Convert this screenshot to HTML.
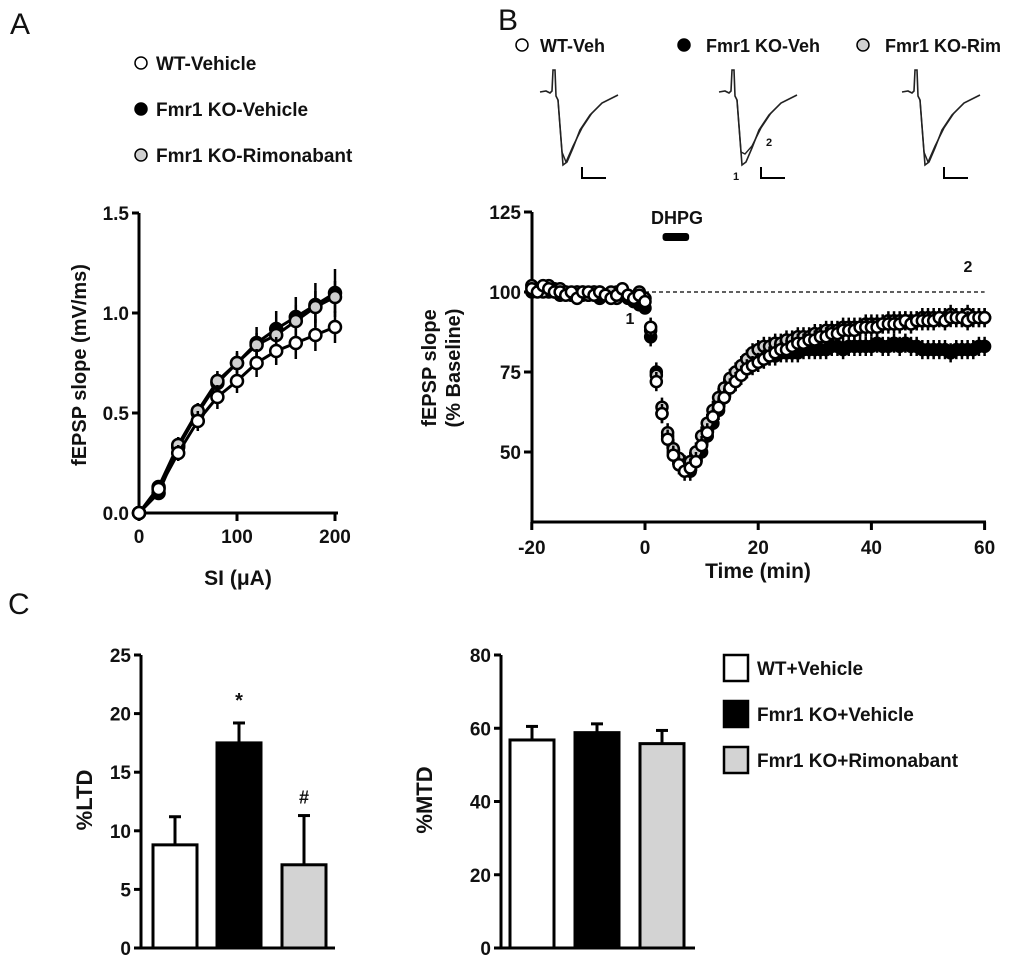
<!DOCTYPE html>
<html><head><meta charset="utf-8">
<style>
html,body{margin:0;padding:0;background:#fff;}
svg{display:block;font-family:"Liberation Sans",Arial,sans-serif;}
text{font-weight:bold;fill:#111;}
</style></head>
<body>
<svg id="fig" width="1024" height="961" viewBox="0 0 1024 961" xmlns="http://www.w3.org/2000/svg">
<text x="10" y="34" font-size="30" font-weight="normal" style="font-weight:normal">A</text>
<text x="498" y="30" font-size="30" style="font-weight:normal">B</text>
<text x="8" y="614" font-size="30" style="font-weight:normal">C</text>
</svg>
<script>
// ---------- Panel A data ----------
const aStim = [0,20,40,60,80,100,120,140,160,180,200];
const aWT   = [0,0.12,0.30,0.46,0.58,0.66,0.75,0.81,0.85,0.89,0.93];
const aWTe  = [0,0.03,0.04,0.05,0.06,0.06,0.07,0.07,0.08,0.08,0.08];
const aKO   = [0,0.10,0.33,0.50,0.65,0.75,0.85,0.92,0.98,1.04,1.10];
const aKOe  = [0,0.03,0.04,0.05,0.05,0.06,0.08,0.09,0.10,0.11,0.12];
const aRim  = [0,0.13,0.34,0.51,0.66,0.75,0.84,0.89,0.96,1.03,1.08];
const aRime = [0,0.03,0.04,0.04,0.05,0.05,0.06,0.07,0.08,0.08,0.08];
const aYTicks = [0.0,0.5,1.0,1.5];
const aYLabels = ["0.0","0.5","1.0","1.5"];
const aXTicks = [0,100,200];

// ---------- Panel B data ----------
const bTime = [-20,-19,-18,-17,-16,-15,-14,-13,-12,-11,-10,-9,-8,-7,-6,-5,-4,-3,-2,-1,0,1,2,3,4,5,6,7,8,9,10,11,12,13,14,15,16,17,18,19,20,21,22,23,24,25,26,27,28,29,30,31,32,33,34,35,36,37,38,39,40,41,42,43,44,45,46,47,48,49,50,51,52,53,54,55,56,57,58,59,60];
const bWT  = [101,100,102,101,100,100,99,100,98,100,100,99,100,99,98,99,101,99,98,99,97,89,72,62,54,49,46,44,45,47,52,56,61,64,67,70,72,74,76,77,78,79,80,81,82,82,83,84,84,85,85,86,86,87,87,88,88,88,89,89,89,89,90,90,90,90,91,90,91,91,91,91,92,91,92,92,92,91,92,92,92];
const bKO  = [100,101,101,100,101,99,100,99,100,99,99,100,98,99,99,100,99,98,97,96,95,86,75,62,55,50,47,45,44,47,50,55,59,63,67,70,72,74,76,78,79,80,80,80,81,81,81,81,82,82,82,82,82,83,83,82,83,83,83,83,83,84,83,83,84,83,84,83,83,82,82,82,82,82,81,82,82,82,82,83,83];
const bRim = [102,101,100,102,100,101,100,99,100,100,99,100,100,99,100,98,100,99,98,100,98,88,74,64,56,51,48,46,47,50,55,59,63,67,70,73,75,77,79,81,82,83,83,84,84,85,85,86,86,86,87,87,88,88,88,89,89,89,89,90,90,90,90,91,91,91,91,91,91,92,92,92,92,92,93,92,92,93,92,92,92];
const bErr = [2,2,2,2,2,2,2,2,2,2,2,2,2,2,2,2,2,2,2,2,2,3,3,3,3,3,3,3,3,3,3,3,3,3,3,3,3,3,3,3,3,3,3,3,3,3,3,3,3,3,3,3,3,3,3,3,3,3,3,3,3,3,3,3,3,3,3,3,3,3,3,3,3,3,3,3,3,3,3,3,3];
const bYTicks = [50,75,100,125];
const bXTicks = [-20,0,20,40,60];

// ---------- Panel C data ----------
const cGroups = ["WT+Vehicle","Fmr1 KO+Vehicle","Fmr1 KO+Rimonabant"];
const cLTD    = [8.8,17.5,7.1];
const cLTDerr = [2.4,1.7,4.2];
const cMTD    = [56.8,58.8,55.8];
const cMTDerr = [3.7,2.4,3.6];
const cLTDTicks = [0,5,10,15,20,25];
const cMTDTicks = [0,20,40,60,80];
const cFills = ["#ffffff","#000000","#d3d3d3"];

const NS="http://www.w3.org/2000/svg";
const svg=document.getElementById('fig');
function mk(tag,attrs,parent){const e=document.createElementNS(NS,tag);for(const k in attrs)e.setAttribute(k,attrs[k]);(parent||svg).appendChild(e);return e;}
function txt(x,y,s,size,anchor,parent){const t=mk('text',{x:x,y:y,'font-size':size,'text-anchor':anchor||'start'},parent);t.textContent=s;return t;}

// ===== Panel A =====
const gA=mk('g',{});


const ax=v=>139+v*0.98, ay=v=>513-v*200;
mk('line',{x1:139,y1:ay(1.5),x2:139,y2:513,stroke:'#000','stroke-width':3},gA);
mk('line',{x1:139,y1:513,x2:ax(200)+3,y2:513,stroke:'#000','stroke-width':3},gA);
aYTicks.forEach((v,i)=>{mk('line',{x1:132,y1:ay(v),x2:139,y2:ay(v),stroke:'#000','stroke-width':3},gA);
 const t=txt(129,ay(v)+7,aYLabels[i],19,'end',gA);
 
 });
aXTicks.forEach(v=>{mk('line',{x1:ax(v),y1:513,x2:ax(v),y2:521,stroke:'#000','stroke-width':3},gA);
 const t=txt(ax(v),543,String(v),19,'middle',gA);
 
 });
const aXT=txt(238,585,'SI (\u03bcA)',21,'middle',gA);


const aYT=txt(0,0,'fEPSP slope (mV/ms)',20,'middle',gA);
aYT.setAttribute('transform','translate(86,365) rotate(-90)');


function seriesA(vals,errs,fill,name){
 const g=mk('g',{},gA);
 
 
 mk('polyline',{points:aStim.map((x,i)=>ax(x)+','+ay(vals[i])).join(' '),fill:'none',stroke:'#000','stroke-width':3},g);
 aStim.forEach((x,i)=>{
  mk('line',{x1:ax(x),y1:ay(vals[i]+errs[i]),x2:ax(x),y2:ay(vals[i]-errs[i]),stroke:'#000','stroke-width':2.5},g);
 });
 aStim.forEach((x,i)=>{
  const c=mk('circle',{cx:ax(x),cy:ay(vals[i]),r:6,fill:fill,stroke:'#000','stroke-width':2.5},g);
  
  
 });
}
seriesA(aKO,aKOe,'#000','a-series-ko-vehicle');
seriesA(aRim,aRime,'#cfcfcf','a-series-ko-rimonabant');
seriesA(aWT,aWTe,'#fff','a-series-wt-vehicle');
// legend A
[['WT-Vehicle','#fff',63],['Fmr1 KO-Vehicle','#000',109],['Fmr1 KO-Rimonabant','#cfcfcf',155]].forEach(l=>{
 const g=mk('g',{});
 
 
 mk('circle',{cx:141,cy:l[2],r:6,fill:l[1],stroke:'#000','stroke-width':1.5},g);
 txt(156,l[2]+7,l[0],19,'start',g);
});

// ===== Panel B =====
const gB=mk('g',{});


const bx=v=>645+v*5.66, by=v=>292-(v-100)*3.2;
mk('line',{x1:532,y1:by(125),x2:532,y2:522,stroke:'#000','stroke-width':3},gB);
mk('line',{x1:532,y1:522,x2:986,y2:522,stroke:'#000','stroke-width':3},gB);
bYTicks.forEach(v=>{mk('line',{x1:524,y1:by(v),x2:532,y2:by(v),stroke:'#000','stroke-width':3},gB);
 const t=txt(521,by(v)+7,String(v),19,'end',gB);
 
 });
bXTicks.forEach(v=>{mk('line',{x1:bx(v),y1:522,x2:bx(v),y2:530,stroke:'#000','stroke-width':3},gB);
 const t=txt(bx(v),554,String(v),19,'middle',gB);
 
 });
const bXT=txt(758,578,'Time (min)',21,'middle',gB);


const bYT=mk('text',{'font-size':20,'text-anchor':'middle',transform:'translate(436,368) rotate(-90)'},gB);


const ts1=mk('tspan',{x:0,dy:0},bYT);ts1.textContent='fEPSP slope';
const ts2=mk('tspan',{x:0,dy:24},bYT);ts2.textContent='(% Baseline)';
mk('line',{x1:bx(0),y1:by(100),x2:bx(60),y2:by(100),stroke:'#000','stroke-width':1.3,'stroke-dasharray':'4,3'},gB);
const dh=mk('rect',{x:bx(3.1),y:233,width:bx(7.8)-bx(3.1),height:8,rx:3,fill:'#000'},gB);


const dt=txt(677,224,'DHPG',18,'middle',gB);


txt(630,324,'1',16,'middle',gB);
txt(968,272,'2',16,'middle',gB);
function seriesB(vals,fill,name){
 const g=mk('g',{},gB);
 
 
 bTime.forEach((t,i)=>{
  mk('line',{x1:bx(t),y1:by(vals[i]+bErr[i]),x2:bx(t),y2:by(vals[i]-bErr[i]),stroke:'#000','stroke-width':2.5},g);
 });
 bTime.forEach((t,i)=>{
  const c=mk('circle',{cx:bx(t),cy:by(vals[i]),r:5.5,fill:fill,stroke:'#000','stroke-width':2.5},g);
  
  
 });
}
seriesB(bKO,'#000','b-series-ko-veh');
seriesB(bRim,'#cfcfcf','b-series-ko-rim');
seriesB(bWT,'#fff','b-series-wt-veh');
// legend B
[['WT-Veh','#fff',522,540],['Fmr1 KO-Veh','#000',684,706],['Fmr1 KO-Rim','#cfcfcf',863,885]].forEach(l=>{
 const g=mk('g',{});
 
 
 mk('circle',{cx:l[2],cy:45,r:6,fill:l[1],stroke:'#000','stroke-width':1.5},g);
 txt(l[3],52,l[0],18,'start',g);
});
// example traces
function trace(ox,deep2,name){
 const g=mk('g',{});
 
 
 const p1=`M${ox},92 L${ox+6},91 L${ox+10},93 L${ox+12},91 L${ox+13},70 L${ox+15},70 L${ox+16},96 L${ox+18},100 L${ox+23},165 L${ox+27},162 L${ox+33},148 L${ox+40},130 L${ox+50},115 L${ox+62},103 L${ox+78},95`;
 mk('path',{d:p1,fill:'none',stroke:'#222','stroke-width':1.6},g);
 const p2=`M${ox+18},100 L${ox+22},152 L${ox+26},${deep2} L${ox+33},146 L${ox+42},128 L${ox+52},113`;
 mk('path',{d:p2,fill:'none',stroke:'#222','stroke-width':1.4},g);
 mk('path',{d:`M${ox+42},167 L${ox+42},178 L${ox+66},178`,fill:'none',stroke:'#000','stroke-width':2},g);
}
trace(540,162,'trace-wt-veh');
trace(719,154,'trace-ko-veh');
trace(902,162,'trace-ko-rim');
txt(736,180,'1',11,'middle');
txt(769,146,'2',11,'middle');

// ===== Panel C =====
function barChart(x0,xEnd,vals,errs,ticks,maxV,barX,name,yTitle,titleX){
 const g=mk('g',{});
 
 
 const yv=v=>948-v/maxV*293;
 mk('line',{x1:x0,y1:yv(maxV),x2:x0,y2:948,stroke:'#000','stroke-width':3},g);
 mk('line',{x1:x0-2,y1:948,x2:xEnd,y2:948,stroke:'#000','stroke-width':3},g);
 ticks.forEach(v=>{mk('line',{x1:x0-7,y1:yv(v),x2:x0,y2:yv(v),stroke:'#000','stroke-width':3},g);
  const t=txt(x0-10,yv(v)+7,String(v),19,'end',g);
  
  });
 vals.forEach((v,i)=>{
  const cx=barX[i]+22;
  mk('line',{x1:cx,y1:yv(v),x2:cx,y2:yv(v+errs[i]),stroke:'#000','stroke-width':3},g);
  mk('line',{x1:cx-6,y1:yv(v+errs[i]),x2:cx+6,y2:yv(v+errs[i]),stroke:'#000','stroke-width':3},g);
  const r=mk('rect',{x:barX[i],y:yv(v),width:44,height:948-yv(v),fill:cFills[i],stroke:'#000','stroke-width':3},g);
  
  
 });
 const t=txt(0,0,yTitle,22,'middle',g);
 t.setAttribute('transform',`translate(${titleX},800) rotate(-90)`);
 
 
 return yv;
}
const yL=barChart(141,335,cLTD,cLTDerr,cLTDTicks,25,[153,217,282],'ltd-bar-chart','%LTD',92);
txt(239,yL(cLTD[1]+cLTDerr[1])-16,'*',20,'middle');
txt(304,yL(cLTD[2]+cLTDerr[2])-12,'#',18,'middle');
barChart(501,695,cMTD,cMTDerr,cMTDTicks,80,[510,575,640],'mtd-bar-chart','%MTD',432);
// legend C
cGroups.forEach((gname,i)=>{
 const g=mk('g',{});
 
 
 const y=655+i*46;
 mk('rect',{x:724,y:y,width:24,height:26,fill:cFills[i],stroke:'#000','stroke-width':2.5},g);
 txt(757,y+20,gname,19,'start',g);
});
</script>
</body></html>
